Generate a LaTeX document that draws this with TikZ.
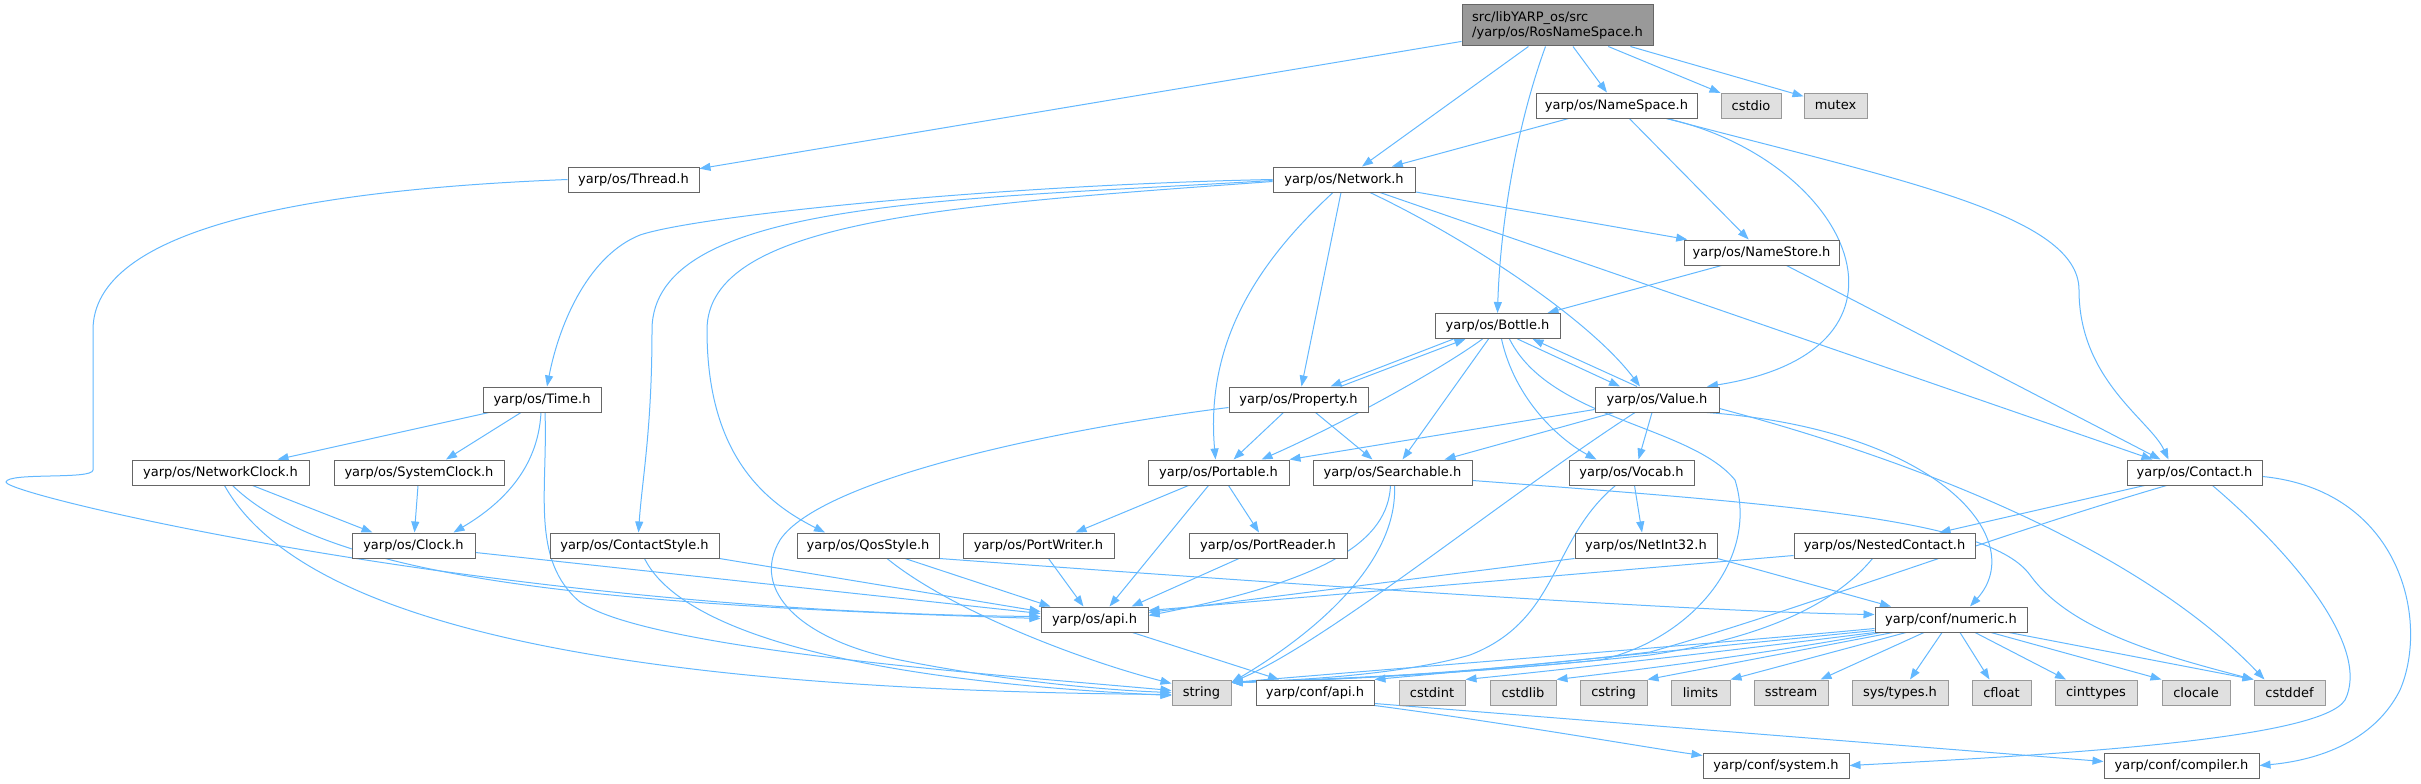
\documentclass[tikz,border=0pt]{standalone}
\usepackage{fontspec}
\setmainfont{DejaVu Sans}
\usepackage{tikz}
\usetikzlibrary{arrows.meta,backgrounds}
\definecolor{edgeblue}{HTML}{63B8FF}
\definecolor{boxline}{HTML}{666666}
\definecolor{sysline}{HTML}{999999}
\definecolor{sysfill}{HTML}{E0E0E0}
\definecolor{rootfill}{HTML}{999999}

\begin{document}
\begin{tikzpicture}[x=1pt,y=-1pt,
  hdr/.style={draw=boxline,fill=white,line width=1pt,minimum height=25pt,
    inner xsep=2pt,inner ysep=0pt,font=\fontsize{13}{15}\selectfont},
  syshdr/.style={hdr,draw=sysline,fill=sysfill},
  roothdr/.style={hdr,fill=rootfill,minimum height=41pt,align=left},
  dep/.style={draw=edgeblue,line width=1pt,-{Triangle[length=11pt,width=8pt]}}]
  \useasboundingbox (0,0) rectangle (2421,784);

  % file of the graph
  \node[roothdr,minimum width=191] (ros) at (1557.5,25.5) {src/libYARP\_os/src\\/yarp/os/RosNameSpace.h};

  % yarp/os headers
  \node[hdr,minimum width=161] (nspace) at (1616.5,105.5) {yarp/os/NameSpace.h};
  \node[syshdr,minimum width=60] (cstdio) at (1751,105.5) {cstdio};
  \node[syshdr,minimum width=63] (mutex) at (1835.5,105.5) {mutex};
  \node[hdr,minimum width=131] (thread) at (633.5,179.5) {yarp/os/Thread.h};
  \node[hdr,minimum width=142] (network) at (1344,179.5) {yarp/os/Network.h};
  \node[hdr,minimum width=155] (namestore) at (1761.5,252.5) {yarp/os/NameStore.h};
  \node[hdr,minimum width=125] (bottle) at (1497.5,326) {yarp/os/Bottle.h};
  \node[hdr,minimum width=118] (time) at (542,399.5) {yarp/os/Time.h};
  \node[hdr,minimum width=139] (property) at (1298.5,399.5) {yarp/os/Property.h};
  \node[hdr,minimum width=124] (value) at (1657,399.5) {yarp/os/Value.h};
  \node[hdr,minimum width=177] (netclock) at (220.5,472.5) {yarp/os/NetworkClock.h};
  \node[hdr,minimum width=170] (sysclock) at (419,472.5) {yarp/os/SystemClock.h};
  \node[hdr,minimum width=141] (portable) at (1218.5,472.5) {yarp/os/Portable.h};
  \node[hdr,minimum width=159] (searchable) at (1392.5,472.5) {yarp/os/Searchable.h};
  \node[hdr,minimum width=125] (vocab) at (1631.5,472.5) {yarp/os/Vocab.h};
  \node[hdr,minimum width=135] (contact) at (2194.5,472.5) {yarp/os/Contact.h};
  \node[hdr,minimum width=123] (clock) at (413.5,545.5) {yarp/os/Clock.h};
  \node[hdr,minimum width=169] (cstyle) at (634.5,545.5) {yarp/os/ContactStyle.h};
  \node[hdr,minimum width=142] (qos) at (868,545.5) {yarp/os/QosStyle.h};
  \node[hdr,minimum width=151] (pwriter) at (1038.5,545.5) {yarp/os/PortWriter.h};
  \node[hdr,minimum width=158] (preader) at (1268,545.5) {yarp/os/PortReader.h};
  \node[hdr,minimum width=142] (netint) at (1646,545.5) {yarp/os/NetInt32.h};
  \node[hdr,minimum width=181] (nested) at (1884.5,545.5) {yarp/os/NestedContact.h};
  \node[hdr,minimum width=107] (osapi) at (1094.5,619.5) {yarp/os/api.h};

  % yarp/conf and system headers
  \node[hdr,minimum width=152] (numeric) at (1951,619.5) {yarp/conf/numeric.h};
  \node[syshdr,minimum width=59] (string) at (1201.5,692.5) {string};
  \node[hdr,minimum width=118] (confapi) at (1315,692.5) {yarp/conf/api.h};
  \node[syshdr,minimum width=66] (cstdint) at (1432,692.5) {cstdint};
  \node[syshdr,minimum width=66] (cstdlib) at (1523,692.5) {cstdlib};
  \node[syshdr,minimum width=67] (cstring) at (1613.5,692.5) {cstring};
  \node[syshdr,minimum width=59] (limits) at (1700.5,692.5) {limits};
  \node[syshdr,minimum width=74] (sstream) at (1791,692.5) {sstream};
  \node[syshdr,minimum width=96] (systypes) at (1900,692.5) {sys/types.h};
  \node[syshdr,minimum width=59] (cfloat) at (2001.5,692.5) {cfloat};
  \node[syshdr,minimum width=82] (cinttypes) at (2096,692.5) {cinttypes};
  \node[syshdr,minimum width=68] (clocale) at (2196,692.5) {clocale};
  \node[syshdr,minimum width=71] (cstddef) at (2289.5,692.5) {cstddef};
  \node[hdr,minimum width=146] (system) at (1776,765.5) {yarp/conf/system.h};
  \node[hdr,minimum width=155] (compiler) at (2181.5,765.5) {yarp/conf/compiler.h};

  \begin{scope}[on background layer]
  % RosNameSpace.h
  \draw[dep] (ros) -- (thread);
  \draw[dep] (ros) -- (network);
  \draw[dep] ([xshift=-12]ros.south) .. controls (1515,130) and (1500,230) .. (bottle.north);
  \draw[dep] (ros) -- (nspace);
  \draw[dep] (ros) -- (cstdio);
  \draw[dep] (ros) -- (mutex);

  % NameSpace.h
  \draw[dep] (nspace) -- (network);
  \draw[dep] (nspace) -- (namestore);
  \draw[dep] ([xshift=50]nspace.south) .. controls (1850,160) and (1940,350) .. ([xshift=50]value.north);
  \draw[dep] ([xshift=50]nspace.south) .. controls (1900,180) and (2079,215) .. (2079,290)
    .. controls (2079,380) and (2150,420) .. ([xshift=-26]contact.north);

  % Thread.h
  \draw[dep] (thread.west) .. controls (300,190) and (93,230) .. (93,330) -- (93,470)
    .. controls (93,480) and (8,472) .. (6,482) .. controls (4,495) and (500,612) .. ([yshift=3]osapi.west);

  % Network.h
  \draw[dep] (network.west) .. controls (1000,185) and (700,215) .. (640,235)
    .. controls (590,255) and (560,320) .. ([xshift=5]time.north);
  \draw[dep] ([yshift=-1]network.west) .. controls (950,200) and (652,200) .. (652,330)
    .. controls (652,430) and (642,480) .. ([xshift=4]cstyle.north);
  \draw[dep] ([yshift=-2]network.west) .. controls (950,205) and (707,220) .. (707,330)
    .. controls (707,450) and (760,500) .. ([xshift=-43]qos.north);
  \draw[dep] ([xshift=-11]network.south) .. controls (1260,260) and (1205,340) .. ([xshift=-3]portable.north);
  \draw[dep] ([xshift=-3]network.south) -- ([xshift=3]property.north);
  \draw[dep] (network) -- (namestore);
  \draw[dep] ([xshift=26]network.south) .. controls (1470,240) and (1590,320) .. ([xshift=-17]value.north);
  \draw[dep] ([xshift=36]network.south) -- ([xshift=-42]contact.north);

  % NameStore.h
  \draw[dep] ([xshift=-40]namestore.south) -- ([xshift=50]bottle.north);
  \draw[dep] ([xshift=25]namestore.south) -- ([xshift=-34]contact.north);

  % Bottle.h
  \draw[dep] ([xshift=-44]bottle.south) -- ([xshift=32]property.north);
  \draw[dep] ([xshift=-15]bottle.south) .. controls (1440,370) and (1340,425) .. ([xshift=43]portable.north);
  \draw[dep] ([xshift=-9]bottle.south) -- ([xshift=10]searchable.north);
  \draw[dep] ([xshift=20]bottle.south) -- ([xshift=-37]value.north);
  \draw[dep] ([xshift=4]bottle.south) .. controls (1515,400) and (1560,440) .. ([xshift=-35]vocab.north);
  \draw[dep] ([xshift=12]bottle.south) .. controls (1550,420) and (1690,425) .. (1735,480)
    .. controls (1760,560) and (1690,640) .. (1600,660)
    .. controls (1450,675) and (1300,680) .. ([yshift=-3]string.north east);

  % Property.h
  \draw[dep] ([xshift=42]property.north) -- ([xshift=-32]bottle.south);
  \draw[dep] ([xshift=-15]property.south) -- ([xshift=15]portable.north);
  \draw[dep] ([xshift=17]property.south) -- ([xshift=-20]searchable.north);
  \draw[dep] ([yshift=-8]property.west) .. controls (1050,430) and (820,480) .. (780,540)
    .. controls (750,590) and (800,640) .. (900,660)
    .. controls (1000,680) and (1100,690) .. (string.west);

  % Value.h
  \draw[dep] ([xshift=-20]value.north) -- ([xshift=35]bottle.south);
  \draw[dep] ([yshift=-10]value.west) -- (portable.north east);
  \draw[dep] ([xshift=-43]value.south) -- ([xshift=52]searchable.north);
  \draw[dep] ([xshift=-5]value.south) -- ([xshift=7]vocab.north);
  \draw[dep] ([xshift=-22]value.south) .. controls (1500,500) and (1330,640) .. ([yshift=-3]string.north east);
  \draw[dep] ([xshift=50]value.south) .. controls (1940,430) and (2030,540) .. ([xshift=19]numeric.north);
  \draw[dep] ([yshift=-9]value.east) .. controls (1950,470) and (2150,560) .. ([xshift=-25]cstddef.north);

  % Time.h
  \draw[dep] ([xshift=-53]time.south) -- ([xshift=57]netclock.north);
  \draw[dep] ([xshift=-21]time.south) -- ([xshift=27]sysclock.north);
  \draw[dep] ([xshift=-1]time.south) .. controls (538,470) and (500,505) .. ([xshift=40]clock.north);
  \draw[dep] ([xshift=3]time.south) .. controls (548,490) and (530,560) .. (580,602)
    .. controls (650,650) and (1000,675) .. ([yshift=2]string.west);

  % clocks
  \draw[dep] ([xshift=32]netclock.south) -- ([xshift=-41]clock.north);
  \draw[dep] ([xshift=12]netclock.south) .. controls (330,580) and (600,605) .. ([yshift=1]osapi.west);
  \draw[dep] ([xshift=4]netclock.south) .. controls (300,620) and (600,690) .. ([yshift=-2]string.west);
  \draw[dep] (sysclock) -- (clock);
  \draw[dep] ([yshift=-7]clock.east) -- ([yshift=6]osapi.west);

  % ContactStyle.h, QosStyle.h
  \draw[dep] (cstyle.south east) -- ([yshift=8]osapi.west);
  \draw[dep] ([xshift=10]cstyle.south) .. controls (680,630) and (850,680) .. ([yshift=-3]string.west);
  \draw[dep] ([xshift=37]qos.south) -- ([xshift=-44]osapi.north);
  \draw[dep] ([xshift=19]qos.south) .. controls (950,610) and (1080,660) .. ([yshift=9]string.west);
  \draw[dep] (qos.south east) .. controls (1300,585) and (1700,612) .. ([yshift=5]numeric.west);

  % Portable.h, PortWriter.h, PortReader.h
  \draw[dep] ([xshift=-30]portable.south) -- ([xshift=37]pwriter.north);
  \draw[dep] ([xshift=10]portable.south) -- ([xshift=-9]preader.north);
  \draw[dep] ([xshift=-10]portable.south) -- ([xshift=15]osapi.north);
  \draw[dep] ([xshift=10]pwriter.south) -- ([xshift=-11]osapi.north);
  \draw[dep] ([xshift=-29]preader.south) -- ([xshift=37]osapi.north);

  % Searchable.h
  \draw[dep] ([xshift=-2]searchable.south) .. controls (1388,540) and (1330,580) .. ([yshift=4]osapi.east);
  \draw[dep] ([xshift=2]searchable.south) .. controls (1398,560) and (1320,630) .. ([yshift=-3]string.north east);
  \draw[dep] ([yshift=-8]searchable.east) .. controls (1800,505) and (1990,520) .. (2030,575)
    .. controls (2070,630) and (2160,655) .. (cstddef.north west);

  % Vocab.h, NetInt32.h
  \draw[dep] ([xshift=3]vocab.south) -- ([xshift=-4]netint.north);
  \draw[dep] ([xshift=-16]vocab.south) .. controls (1550,540) and (1560,620) .. (1470,655)
    .. controls (1400,675) and (1300,680) .. ([yshift=-3]string.north east);
  \draw[dep] (netint.south west) -- ([yshift=7]osapi.east);
  \draw[dep] (netint.south east) -- ([xshift=-60]numeric.north);

  % Contact.h, NestedContact.h
  \draw[dep] ([xshift=-50]contact.south) -- ([xshift=55]nested.north);
  \draw[dep] ([xshift=-28]contact.south) .. controls (1980,540) and (1800,610) .. (1650,652)
    .. controls (1450,676) and (1300,681) .. ([yshift=-3]string.north east);
  \draw[dep] ([xshift=18]contact.south) .. controls (2300,560) and (2370,650) .. (2345,700)
    .. controls (2320,740) and (2050,755) .. (system.east);
  \draw[dep] ([yshift=-4]contact.east) .. controls (2400,490) and (2430,620) .. (2400,690)
    .. controls (2370,750) and (2300,762) .. (compiler.east);
  \draw[dep] ([yshift=-10]nested.west) -- ([yshift=9]osapi.east);
  \draw[dep] ([xshift=-12]nested.south) .. controls (1830,610) and (1750,640) .. (1650,655)
    .. controls (1450,676) and (1300,681) .. ([yshift=-3]string.north east);

  % api headers
  \draw[dep] ([xshift=38]osapi.south) -- ([xshift=-36]confapi.north);
  \draw[dep] (confapi.south east) .. controls (1500,722) and (1650,748) .. ([yshift=10]system.west);
  \draw[dep] ([yshift=2]confapi.south east) -- ([yshift=4]compiler.west);

  % numeric.h
  \draw[dep] ([yshift=4]numeric.south west) .. controls (1700,645) and (1400,668) .. ([yshift=-3]string.north east);
  \draw[dep] ([yshift=2]numeric.south west) .. controls (1700,648) and (1500,668) .. (confapi.north east);
  \draw[dep] (numeric.south west) .. controls (1720,652) and (1560,670) .. (cstdint.north east);
  \draw[dep] ([xshift=-70]numeric.south) .. controls (1760,655) and (1620,672) .. (cstdlib.north east);
  \draw[dep] ([xshift=-58]numeric.south) -- (cstring.north east);
  \draw[dep] ([xshift=-45]numeric.south) -- (limits.north east);
  \draw[dep] ([xshift=-27]numeric.south) -- ([xshift=-8]sstream.north east);
  \draw[dep] ([xshift=-9]numeric.south) -- ([xshift=10]systypes.north);
  \draw[dep] ([xshift=9]numeric.south) -- ([xshift=-12]cfloat.north);
  \draw[dep] ([xshift=24]numeric.south) -- ([xshift=-30]cinttypes.north);
  \draw[dep] ([xshift=40]numeric.south) -- (clocale.north west);
  \draw[dep] ([xshift=58]numeric.south) -- (cstddef.north west);
  \end{scope}
\end{tikzpicture}
\end{document}
